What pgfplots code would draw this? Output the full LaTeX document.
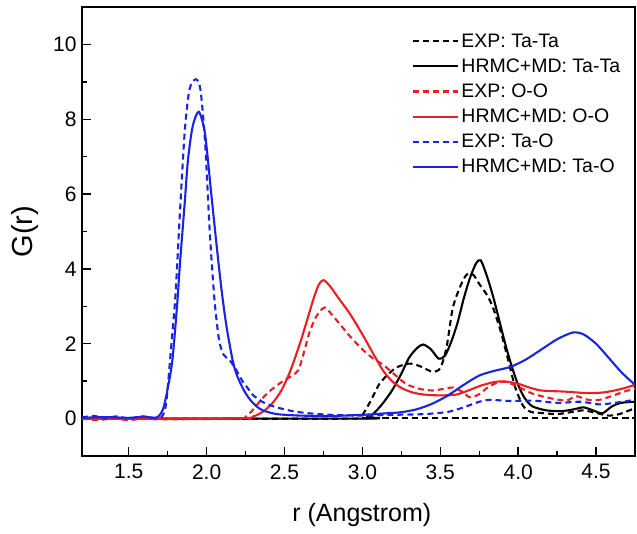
\documentclass[border=0pt]{standalone}
\usepackage{pgfplots}
\pgfplotsset{compat=1.18}
\usepackage{fontspec}
\setmainfont{Liberation Sans}

\definecolor{cblue}{RGB}{25,35,225}
\definecolor{cred}{RGB}{235,30,35}

\begin{document}
\begin{tikzpicture}
\begin{axis}[
  scale only axis, width=553pt, height=449pt,
  xmin=1.2, xmax=4.75, ymin=-1, ymax=11,
  xtick={1.5,2.0,...,4.5}, ytick={0,2,...,10},
  minor x tick num=1, minor y tick num=1,
  tick pos=left, tick align=inside,
  major tick length=9pt, minor tick length=5pt,
  every tick/.style={line width=1.4pt, black},
  axis line style={line width=1.8pt},
  /pgf/number format/assume math mode=true,
  xticklabel style={/pgf/number format/fixed, /pgf/number format/fixed zerofill, /pgf/number format/precision=1},
  ticklabel style={font=\fontsize{21}{24}\selectfont},
  xticklabel style={yshift=-5pt},
  yticklabel style={xshift=-2pt},
  xlabel={r (Angstrom)}, ylabel={G(r)},
  xlabel style={font=\fontsize{25}{28}\selectfont, at={(axis description cs:0.506,-0.098)}, anchor=north},
  ylabel style={font=\fontsize{29}{32}\selectfont, at={(axis description cs:-0.072,0.5)}, anchor=south},
  legend style={draw=none, fill=none, at={(0.597,0.945)}, anchor=north west,
    font=\fontsize{19.5}{22}\selectfont, row sep=6pt, inner sep=0pt},
  legend cell align=left,
  legend image code/.code={\draw[#1] (0pt,0pt) -- (45pt,0pt);},
  every axis plot/.append style={line width=2.1pt, smooth, tension=0.45},
  clip=true,
]
% Ta-Ta EXP
\addplot[black, dash pattern=on 6pt off 4pt] table {
1.20 0.0
2.95 0.0
3.00 0.1
3.05 0.45
3.11 0.93
3.17 1.2
3.22 1.37
3.30 1.47
3.37 1.4
3.45 1.25
3.50 1.35
3.54 1.9
3.58 2.95
3.63 3.55
3.67 3.85
3.71 3.85
3.75 3.6
3.80 3.3
3.84 2.95
3.89 2.3
3.94 1.5
3.98 0.85
4.03 0.35
4.08 0.18
4.15 0.15
4.25 0.12
4.35 0.18
4.42 0.22
4.50 0.15
4.58 0.08
4.65 0.12
4.75 0.28
};
\addlegendentry{EXP: Ta-Ta}
% Ta-Ta HRMC+MD
\addplot[black] table {
1.20 0.0
3.00 0.0
3.05 0.05
3.12 0.35
3.19 0.75
3.25 1.2
3.30 1.63
3.35 1.88
3.39 1.98
3.44 1.85
3.49 1.6
3.53 1.68
3.57 2.05
3.61 2.55
3.65 3.2
3.69 3.75
3.73 4.15
3.76 4.23
3.80 3.8
3.84 3.25
3.88 2.6
3.92 1.95
3.96 1.38
4.00 0.9
4.04 0.56
4.09 0.33
4.18 0.22
4.28 0.2
4.36 0.25
4.42 0.3
4.48 0.22
4.54 0.14
4.60 0.32
4.66 0.42
4.75 0.45
};
\addlegendentry{HRMC+MD: Ta-Ta}
% O-O EXP
\addplot[cred, dash pattern=on 6pt off 4pt] table {
1.20 0.0
1.30 -0.04
1.40 0.0
1.50 -0.04
1.60 0.0
1.70 -0.02
2.20 0.0
2.25 0.05
2.29 0.2
2.34 0.45
2.39 0.68
2.44 0.85
2.49 1.0
2.55 1.15
2.59 1.3
2.62 1.7
2.66 2.3
2.70 2.7
2.73 2.88
2.76 2.97
2.80 2.8
2.85 2.55
2.92 2.2
3.00 1.85
3.07 1.6
3.13 1.45
3.20 1.2
3.28 0.93
3.36 0.8
3.45 0.75
3.53 0.8
3.58 0.83
3.64 0.72
3.69 0.57
3.75 0.65
3.80 0.82
3.86 0.95
3.92 0.98
4.00 0.85
4.09 0.67
4.20 0.55
4.31 0.48
4.37 0.6
4.45 0.5
4.52 0.5
4.60 0.6
4.68 0.72
4.75 0.8
};
\addlegendentry{EXP: O-O}
% O-O HRMC+MD
\addplot[cred] table {
1.20 0.0
2.20 0.01
2.30 0.06
2.36 0.18
2.42 0.4
2.48 0.75
2.53 1.2
2.57 1.65
2.61 2.15
2.65 2.7
2.69 3.25
2.72 3.58
2.75 3.7
2.79 3.55
2.85 3.2
2.92 2.8
3.00 2.25
3.07 1.73
3.13 1.3
3.19 1.0
3.25 0.82
3.32 0.7
3.40 0.64
3.50 0.62
3.60 0.64
3.68 0.75
3.76 0.88
3.85 0.98
3.92 0.99
4.00 0.93
4.08 0.82
4.15 0.75
4.30 0.72
4.45 0.68
4.55 0.7
4.65 0.78
4.75 0.9
};
\addlegendentry{HRMC+MD: O-O}
% Ta-O EXP
\addplot[cblue, dash pattern=on 6pt off 4pt] table {
1.20 0.03
1.28 0.07
1.35 0.0
1.42 0.06
1.50 0.0
1.58 0.06
1.65 0.02
1.71 0.04
1.74 0.4
1.77 1.8
1.80 3.3
1.83 5.6
1.86 7.7
1.89 8.8
1.93 9.07
1.96 8.8
1.99 7.4
2.02 5.0
2.05 3.2
2.08 2.1
2.11 1.7
2.15 1.55
2.19 1.3
2.23 1.0
2.27 0.78
2.30 0.62
2.37 0.42
2.45 0.3
2.55 0.2
2.66 0.14
2.80 0.1
3.00 0.08
3.20 0.1
3.40 0.12
3.55 0.18
3.65 0.3
3.75 0.45
3.82 0.5
3.95 0.47
4.10 0.48
4.25 0.42
4.40 0.45
4.52 0.38
4.62 0.42
4.75 0.5
};
\addlegendentry{EXP: Ta-O}
% Ta-O HRMC+MD
\addplot[cblue] table {
1.20 0.02
1.35 0.04
1.50 0.02
1.60 0.05
1.68 0.03
1.72 0.25
1.75 0.8
1.78 1.55
1.81 3.0
1.83 4.2
1.86 5.8
1.88 6.9
1.91 7.8
1.95 8.2
1.99 7.6
2.03 6.0
2.07 4.4
2.10 3.3
2.13 2.4
2.17 1.5
2.20 1.1
2.24 0.75
2.28 0.5
2.32 0.33
2.36 0.22
2.45 0.12
2.60 0.08
2.80 0.07
3.00 0.1
3.15 0.14
3.25 0.17
3.35 0.25
3.45 0.4
3.55 0.62
3.65 0.9
3.75 1.15
3.85 1.28
3.95 1.38
4.05 1.58
4.15 1.85
4.25 2.12
4.35 2.30
4.42 2.25
4.50 2.0
4.58 1.63
4.66 1.25
4.75 0.9
};
\addlegendentry{HRMC+MD: Ta-O}
% flat experimental baseline
\addplot[black, dash pattern=on 6pt off 4pt, forget plot] table {
3.00 0.02
4.75 0.02
};
\end{axis}
\path ([xshift=-82pt,yshift=-78pt]current axis.south west) rectangle ([xshift=2pt,yshift=7pt]current axis.north east);
\end{tikzpicture}
\end{document}
